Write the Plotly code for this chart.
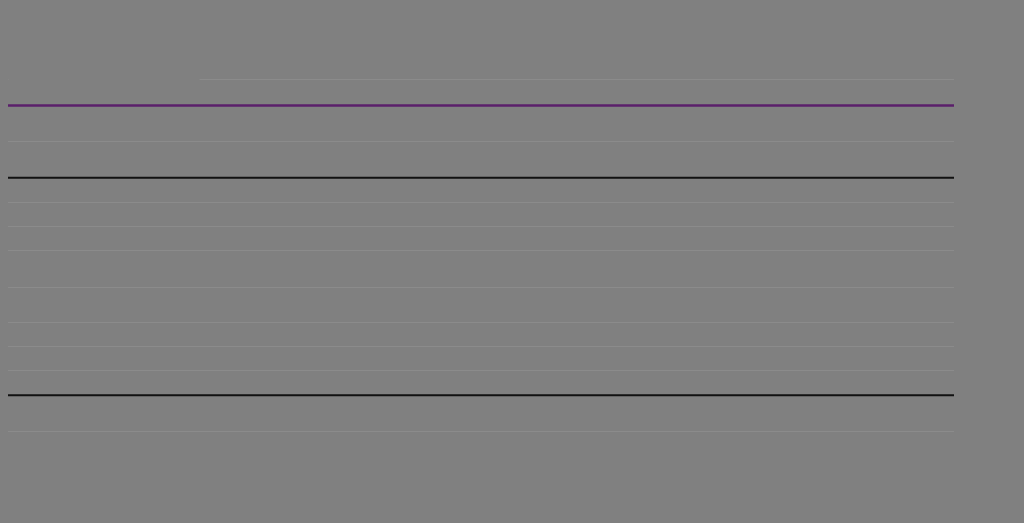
import plotly.graph_objects as go

# constant reference levels (axis 0-100)
x_points = [0, 1]
upper_level = [92.6, 92.6]
mid_level = [72.1, 72.1]
low_level = [10.3, 10.3]
grid_ticks = [0, 17.4, 24.2, 31.1, 41.0, 51.3, 58.1, 65.0, 82.3, 100]

bg = '#808080'

fig = go.Figure()
fig.add_trace(go.Scatter(x=x_points, y=upper_level, mode='lines', name='upper',
                         line=dict(color='#5b1f6b', width=2.5)))
fig.add_trace(go.Scatter(x=x_points, y=mid_level, mode='lines', name='mid',
                         line=dict(color='#111111', width=2)))
fig.add_trace(go.Scatter(x=x_points, y=low_level, mode='lines', name='low',
                         line=dict(color='#111111', width=2)))

# blank box over the left end of the top gridline, as in the original
fig.add_annotation(x=0, y=100, xref='paper', yref='y', xanchor='left', yanchor='middle',
                   text=' ', showarrow=False, bgcolor=bg, width=190, height=8,
                   borderpad=0, font=dict(color=bg, size=6))

fig.update_layout(
    width=1024, height=523,
    paper_bgcolor=bg, plot_bgcolor=bg,
    margin=dict(l=0, r=78, t=68, b=96),
    showlegend=False,
    xaxis=dict(range=[0, 1], showgrid=False, zeroline=False, showticklabels=False,
               showline=False),
    yaxis=dict(range=[-1, 101], tickvals=grid_ticks, showticklabels=False,
               gridcolor='#8b8b8b', gridwidth=1, zeroline=False, showline=False),
)

fig.write_html("out.html", post_script="document.body.style.background='%s';" % bg)
